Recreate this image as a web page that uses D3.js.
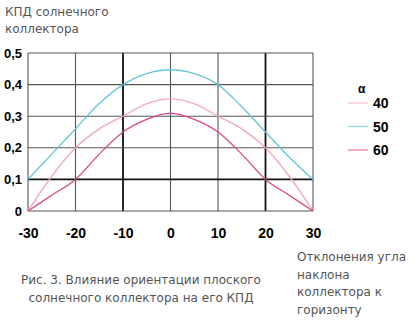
<!DOCTYPE html>
<html>
<head>
<meta charset="utf-8">
<script src="https://cdn.jsdelivr.net/npm/d3@7"></script>
<style>
    body { margin: 0; background: #fff; }
</style>
</head>
<body>
<div id="canvas"></div>
<script>
"use strict";

let svgWidth = 417;
let svgHeight = 321;

/* ---------------- DATA ---------------- */

let angles = [-30, -25, -20, -15, -10, -5, 0, 5, 10, 15, 20, 25, 30];

let alpha40 = [0, 0.11, 0.2, 0.26, 0.3, 0.34, 0.355, 0.34, 0.3, 0.26, 0.2, 0.11, 0];
let alpha50 = [0.1, 0.18, 0.26, 0.34, 0.4, 0.435, 0.447, 0.435, 0.4, 0.33, 0.25, 0.17, 0.1];
let alpha60 = [0, 0.05, 0.1, 0.18, 0.25, 0.29, 0.31, 0.29, 0.25, 0.18, 0.1, 0.05, 0];

let seriesNames = ["40", "50", "60"];
let xTicks = [-30, -20, -10, 0, 10, 20, 30];
let yTicks = [0, 0.1, 0.2, 0.3, 0.4, 0.5];

let colors = {
    "40": "#f2a6c4",
    "50": "#62c6d6",
    "60": "#d9488c"
};

let margin = { top: 53, right: 104, bottom: 110, left: 28 };

let labelFont = "Liberation Sans, Arial, sans-serif";
let textFont = "DejaVu Sans, sans-serif";

let svg = d3.select("#canvas")
    .append("svg")
    .attr("width", svgWidth)
    .attr("height", svgHeight);

svg.append("rect")
    .attr("width", svgWidth)
    .attr("height", svgHeight)
    .attr("fill", "#fff");

/* ---------------- SCALES ---------------- */

let xScale = d3.scaleLinear()
    .domain([-30, 30])
    .range([margin.left, svgWidth - margin.right]);

let yScale = d3.scaleLinear()
    .domain([0, 0.5])
    .range([svgHeight - margin.bottom, margin.top]);

/* ---------------- GRID ---------------- */

let grid = svg.append("g");

// darker lines as they appear in the scan
let darkX = [-10, 20];
let darkY = [0.1];

xTicks.forEach(function (t) {
    let dark = darkX.indexOf(t) >= 0;
    grid.append("line")
        .attr("x1", xScale(t)).attr("x2", xScale(t))
        .attr("y1", yScale(0.5)).attr("y2", yScale(0))
        .attr("stroke", dark ? "#111" : "#555")
        .attr("stroke-width", dark ? 1.8 : 1.1);
});

yTicks.forEach(function (t) {
    let dark = darkY.indexOf(t) >= 0;
    grid.append("line")
        .attr("x1", xScale(-30)).attr("x2", xScale(30))
        .attr("y1", yScale(t)).attr("y2", yScale(t))
        .attr("stroke", dark ? "#111" : "#555")
        .attr("stroke-width", dark ? 1.8 : 1.1);
});

/* ---------------- AXES LABELS ---------------- */

let yAxis = d3.axisLeft(yScale)
    .tickValues(yTicks)
    .tickSize(0)
    .tickPadding(6)
    .tickFormat(function (d) { return d === 0 ? "0" : d3.format(".1f")(d).replace(".", ","); });

let yG = svg.append("g")
    .attr("transform", "translate(" + margin.left + ",0)")
    .call(yAxis);
yG.select(".domain").remove();
yG.selectAll("text")
    .style("font-family", labelFont)
    .style("font-size", "13px")
    .style("font-weight", "bold")
    .attr("fill", "#000");

// plain hyphen for negatives, as in the original
let xAxis = d3.axisBottom(xScale)
    .tickValues(xTicks)
    .tickSize(0)
    .tickPadding(17)
    .tickFormat(function (d) { return String(d); });

let xG = svg.append("g")
    .attr("transform", "translate(0," + yScale(0) + ")")
    .call(xAxis);
xG.select(".domain").remove();
xG.selectAll("text")
    .style("font-family", labelFont)
    .style("font-size", "14px")
    .style("font-weight", "bold")
    .attr("fill", "#000");

/* ---------------- CURVES ---------------- */

let seriesData = {
    "40": alpha40,
    "50": alpha50,
    "60": alpha60
};

let line = d3.line()
    .x(function (d, i) { return xScale(angles[i]); })
    .y(function (d) { return yScale(d); })
    .curve(d3.curveMonotoneX);

seriesNames.forEach(function (name) {
    svg.append("path")
        .datum(seriesData[name])
        .attr("d", line)
        .attr("fill", "none")
        .attr("stroke", colors[name])
        .attr("stroke-width", 1.3);
});

/* ---------------- LEGEND ---------------- */

let legend = svg.append("g");

legend.append("text")
    .attr("x", 358)
    .attr("y", 93)
    .style("font-family", labelFont)
    .style("font-size", "12px")
    .style("font-weight", "bold")
    .attr("fill", "#000")
    .text("α");

seriesNames.forEach(function (name, i) {
    let y = 103 + i * 23.5;
    legend.append("line")
        .attr("x1", 348).attr("x2", 368)
        .attr("y1", y).attr("y2", y)
        .attr("stroke", colors[name])
        .attr("stroke-opacity", 0.7)
        .attr("stroke-width", 1.3);
    legend.append("text")
        .attr("x", 373)
        .attr("y", y + 5)
        .style("font-family", labelFont)
        .style("font-size", "14px")
        .style("font-weight", "bold")
        .attr("fill", "#000")
        .text(name);
});

/* ---------------- TEXTS ---------------- */

let yTitle = ["КПД солнечного", "коллектора"];
yTitle.forEach(function (s, i) {
    svg.append("text")
        .attr("x", 5)
        .attr("y", 16 + i * 17)
        .style("font-family", textFont)
        .style("font-size", "12px")
        .attr("fill", "#555")
        .text(s);
});

let xTitle = ["Отклонения угла", "наклона", "коллектора к", "горизонту"];
xTitle.forEach(function (s, i) {
    svg.append("text")
        .attr("x", 297)
        .attr("y", 261 + i * 17.5)
        .style("font-family", textFont)
        .style("font-size", "12px")
        .attr("fill", "#555")
        .text(s);
});

let caption = ["Рис. 3. Влияние ориентации плоского", "солнечного коллектора на его КПД"];
caption.forEach(function (s, i) {
    svg.append("text")
        .attr("x", 141)
        .attr("y", 284 + i * 18)
        .attr("text-anchor", "middle")
        .style("font-family", textFont)
        .style("font-size", "12px")
        .attr("fill", "#555")
        .text(s);
});
</script>
</body>
</html>
